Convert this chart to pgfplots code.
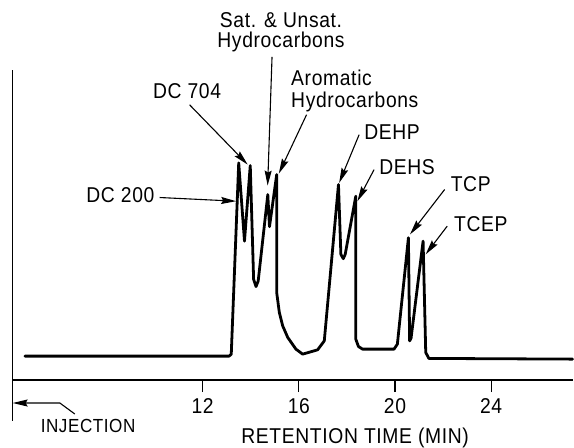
\documentclass[border=0pt]{standalone}
\usepackage{fontspec}
\setmainfont[FakeStretch=0.9,LetterSpace=3]{Liberation Sans}
\usepackage{pgfplots}
\pgfplotsset{compat=1.18}
\usetikzlibrary{arrows.meta}

\begin{document}
\begin{tikzpicture}
\begin{axis}[at={(0pt,0pt)}, anchor=south west, scale only axis,
  width=561.7pt, height=311pt,
  xmin=4.08, xmax=27.39, ymin=0, ymax=311,
  axis lines*=left, axis line style={line width=1.2pt},
  ytick=\empty, xtick={12,16,20,24},
  tick align=outside, major tick length=12pt,
  tick style={line width=1.2pt, black},
  xticklabel style={font=\fontsize{21.5}{24}\selectfont, anchor=base, inner sep=0pt, yshift=-22pt},
  /pgf/number format/assume math mode=true,
  clip=false]
% chromatogram trace (retention time in min, detector signal)
\addplot[line width=2.8pt, line join=round, line cap=round] coordinates {
  (4.61,24) (13.10,24) (13.19,26) (13.50,217.7) (13.74,139.3) (13.98,215)
  (14.12,101) (14.22,93.7) (14.31,99.3) (14.71,186) (14.78,153.7) (15.08,206)
  (15.08,87.7) (15.19,67.7) (15.33,54.3) (15.54,42.7) (15.88,31) (16.16,26)
  (16.78,30.3) (17.06,39.3) (17.65,196) (17.75,126) (17.85,121.7) (17.93,126)
  (18.37,184.3) (18.37,41) (18.48,33.7) (18.65,31) (19.96,31) (20.10,36)
  (20.56,142.7) (20.61,39.3) (20.67,42) (21.17,139.3) (21.28,27.7) (21.41,21.7)
  (27.39,21)};
\end{axis}
\begin{scope}[shift={(-12.3pt,381pt)}, x=1pt, y=-1pt,
  every node/.style={inner sep=0pt, font=\fontsize{21.5}{24}\selectfont},
  arr/.style={line width=1.1pt, -{Stealth[length=15pt,width=7pt,inset=2pt]}}]
\path[use as bounding box] (0,0) rectangle (574,449);
% peak labels
\node[anchor=base] at (281.7,27.3) {Sat. \& Unsat.};
\node[anchor=base] at (281.7,47.7) {Hydrocarbons};
\node[anchor=base west] at (291.7,86) {Aromatic};
\node[anchor=base west] at (291.7,107.3) {Hydrocarbons};
\node[anchor=base] at (187.5,99) {DC 704};
\node[anchor=base east] at (155,203.3) {DC 200};
\node[anchor=base west] at (365,140) {DEHP};
\node[anchor=base west] at (380,175) {DEHS};
\node[anchor=base west] at (451.7,191.7) {TCP};
\node[anchor=base west] at (455,231.7) {TCEP};
\draw[arr] (272.7,57) -- (268.3,186);
\draw[arr] (307.3,115) -- (279.5,174);
\draw[arr] (190,105) -- (248.3,165);
\draw[arr] (160,198) -- (236.7,201.7);
\draw[arr] (360,135) -- (340,183.3);
\draw[arr] (375,170) -- (358.3,201.7);
\draw[arr] (445.7,190) -- (411,235);
\draw[arr] (448.3,226.7) -- (426.7,255);
% injection marker and axis title
\draw[line width=1.2pt] (12.3,381) -- (12.3,421.7);
\draw[arr] (75,415) -- (60,404) -- (12.7,404);
\node[anchor=base west, font=\fontsize{19}{22}\selectfont] at (40.7,433.3) {INJECTION};
\node[anchor=base] at (356,445) {RETENTION TIME (MIN)};
\end{scope}
\end{tikzpicture}
\end{document}
